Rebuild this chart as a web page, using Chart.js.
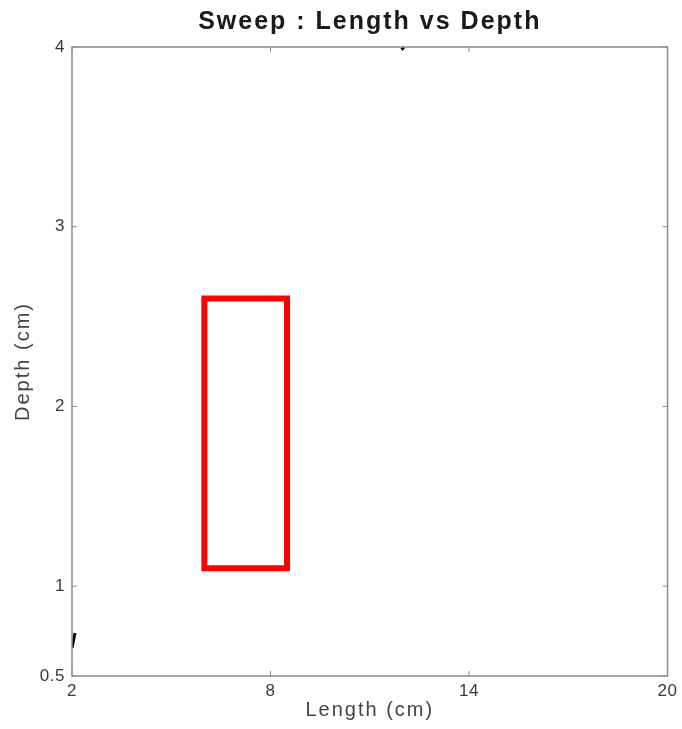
<!DOCTYPE html>
<html>
<head>
<meta charset="utf-8">
<script src="https://cdn.jsdelivr.net/npm/chart.js@4"></script>
<style>
  html, body { margin: 0; padding: 0; background: #fff; }
  #wrap { width: 682px; height: 729px; }
</style>
</head>
<body>
<div id="wrap"><canvas id="chart" width="682" height="729"></canvas></div>
<script>
// sweep region (cm), last point repeats the first edge so the corner joins
const sweepLength = [6, 8.5, 8.5, 6, 6, 8.5];
const sweepDepth = [1.1, 1.1, 2.6, 2.6, 1.1, 1.1];

// traces clipped at the plot edges
const edgeLength = [2, 2.09];
const edgeDepth = [0.656, 0.739];
const topLength = [11.96, 12.04];
const topDepth = [3.985, 4.0];

const xTicks = [2, 8, 14, 20];
const yTicks = [0.5, 1, 2, 3, 4];

const FONT = 'Liberation Sans, Arial, sans-serif';

const toPoints = (xs, ys) => xs.map((x, i) => ({ x: x, y: ys[i] }));

// the reference text is spread out: wide spacing for titles, a little for tick labels
const spacingPlugin = {
    id: 'spacing',
    beforeDraw(chart) {
        const ctx = chart.ctx;
        ctx.letterSpacing = '2px';
        Object.values(chart.scales).forEach(scale => {
            if (scale._spacedLabels) return;
            const drawLabels = scale.drawLabels;
            scale.drawLabels = function (area) {
                ctx.letterSpacing = '0.5px';
                drawLabels.call(this, area);
                ctx.letterSpacing = '2px';
            };
            scale._spacedLabels = true;
        });
    }
};

// box around the plot with inward tick marks (matlab style)
const framePlugin = {
    id: 'frame',
    afterDatasetsDraw(chart) {
        const { ctx, chartArea: a, scales } = chart;
        ctx.save();
        ctx.strokeStyle = '#8a8a8a';
        ctx.lineWidth = 1.5;
        ctx.strokeRect(a.left, a.top, a.right - a.left, a.bottom - a.top);
        ctx.lineWidth = 1;
        ctx.beginPath();
        xTicks.forEach(v => {
            const px = scales.x.getPixelForValue(v);
            ctx.moveTo(px, a.bottom); ctx.lineTo(px, a.bottom - 5);
            ctx.moveTo(px, a.top); ctx.lineTo(px, a.top + 5);
        });
        yTicks.forEach(v => {
            const py = scales.y.getPixelForValue(v);
            ctx.moveTo(a.left, py); ctx.lineTo(a.left + 5, py);
            ctx.moveTo(a.right, py); ctx.lineTo(a.right - 5, py);
        });
        ctx.stroke();
        ctx.restore();
    }
};

new Chart(document.getElementById('chart'), {
    type: 'scatter',
    data: {
        datasets: [
            {
                label: 'Sweep',
                data: toPoints(sweepLength, sweepDepth),
                showLine: true,
                borderColor: '#ff0000',
                borderWidth: 6,
                pointRadius: 0,
                fill: false,
                borderJoinStyle: 'miter'
            },
            {
                label: 'edge',
                data: toPoints(edgeLength, edgeDepth),
                showLine: true,
                borderColor: '#000',
                borderWidth: 3,
                pointRadius: 0
            },
            {
                label: 'top',
                data: toPoints(topLength, topDepth),
                showLine: true,
                borderColor: '#000',
                borderWidth: 3,
                pointRadius: 0
            }
        ]
    },
    options: {
        responsive: false,
        animation: false,
        layout: { padding: { left: 0, right: 14, top: 0, bottom: 0 } },
        plugins: {
            legend: { display: false },
            tooltip: { enabled: false },
            title: {
                display: true,
                text: 'Sweep : Length vs Depth',
                fullSize: false,
                color: '#1a1a1a',
                font: { family: FONT, size: 25, weight: 'bold', lineHeight: 1.2 },
                padding: { top: 7, bottom: 10 }
            }
        },
        scales: {
            x: {
                type: 'linear',
                min: 2,
                max: 20,
                afterBuildTicks: axis => { axis.ticks = xTicks.map(v => ({ value: v })); },
                afterFit: axis => { axis.height = 53; },
                grid: { display: false, drawTicks: false },
                border: { display: false },
                ticks: {
                    padding: 5,
                    color: '#3a3a3a',
                    font: { family: FONT, size: 17 },
                    maxRotation: 0
                },
                title: {
                    display: true,
                    text: 'Length (cm)',
                    color: '#444',
                    font: { family: FONT, size: 20 },
                    padding: { top: 0, bottom: 7 }
                }
            },
            y: {
                type: 'linear',
                min: 0.5,
                max: 4,
                afterBuildTicks: axis => { axis.ticks = yTicks.map(v => ({ value: v })); },
                afterFit: axis => { axis.width = 72; },
                grid: { display: false, drawTicks: false },
                border: { display: false },
                ticks: {
                    padding: 7,
                    color: '#3a3a3a',
                    font: { family: FONT, size: 17 }
                },
                title: {
                    display: true,
                    text: 'Depth (cm)',
                    color: '#444',
                    font: { family: FONT, size: 20 },
                    padding: { top: 11, bottom: 0 }
                }
            }
        }
    },
    plugins: [spacingPlugin, framePlugin]
});
</script>
</body>
</html>
